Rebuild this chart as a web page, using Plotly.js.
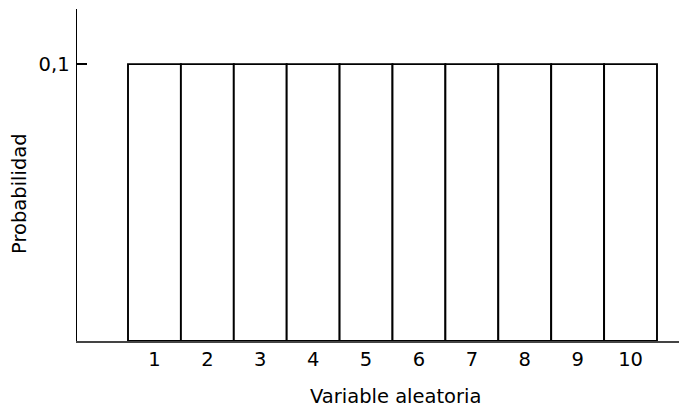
<!DOCTYPE html>
<html>
<head>
<meta charset="utf-8">
<script src="https://cdn.plot.ly/plotly-3.0.1.min.js"></script>
<style>html,body{margin:0;padding:0;background:#fff;}#chart{width:679px;height:407px;}</style>
</head>
<body>
<div id="chart"></div>
<script>
const categories = [1, 2, 3, 4, 5, 6, 7, 8, 9, 10];
const probabilities = [0.1, 0.1, 0.1, 0.1, 0.1, 0.1, 0.1, 0.1, 0.1, 0.1];
const yTickValues = [0.1];
const yTickLabels = ['0,1'];
const xTitle = 'Variable aleatoria';
const yTitle = 'Probabilidad';

const FONT = 'DejaVu Sans, sans-serif';
const FS = 19.5;

const trace = {
  type: 'bar',
  x: categories,
  y: probabilities,
  width: 1,
  marker: {color: '#ffffff', line: {color: '#000000', width: 1.9}},
  hoverinfo: 'skip'
};

const layout = {
  width: 679, height: 407,
  margin: {l: 77, r: 0, t: 9, b: 66},
  paper_bgcolor: '#ffffff', plot_bgcolor: '#ffffff',
  showlegend: false,
  font: {family: FONT, size: FS, color: '#000000'},
  xaxis: {
    range: [-0.464, 10.916],
    tickvals: categories,
    ticktext: categories.map(String),
    ticks: '',
    showgrid: false, zeroline: false,
    showline: true, linecolor: '#444444', linewidth: 1.5,
    tickfont: {family: FONT, size: FS, color: '#000000'},
    ticklabelstandoff: 0,
    fixedrange: true
  },
  yaxis: {
    range: [0, 0.1199],
    tickvals: yTickValues,
    ticktext: yTickLabels,
    ticks: 'inside', ticklen: 10, tickwidth: 1.5, tickcolor: '#000000',
    showgrid: false, zeroline: false,
    showline: true, linecolor: '#000000', linewidth: 1.5,
    tickfont: {family: FONT, size: FS, color: '#000000'},
    ticklabelstandoff: 2,
    fixedrange: true
  },
  annotations: [
    {text: xTitle, xref: 'paper', yref: 'paper', x: (395.5 - 77) / 602, y: (341 - 397) / 332,
     xanchor: 'center', yanchor: 'middle', showarrow: false,
     font: {family: FONT, size: FS, color: '#000000'}},
    {text: yTitle, xref: 'paper', yref: 'paper', x: (19 - 77) / 602, y: (341 - 193) / 332,
     xanchor: 'center', yanchor: 'middle', showarrow: false, textangle: -90,
     font: {family: FONT, size: FS, color: '#000000'}}
  ]
};

Plotly.newPlot('chart', [trace], layout, {displayModeBar: false, staticPlot: true});
</script>
</body>
</html>
